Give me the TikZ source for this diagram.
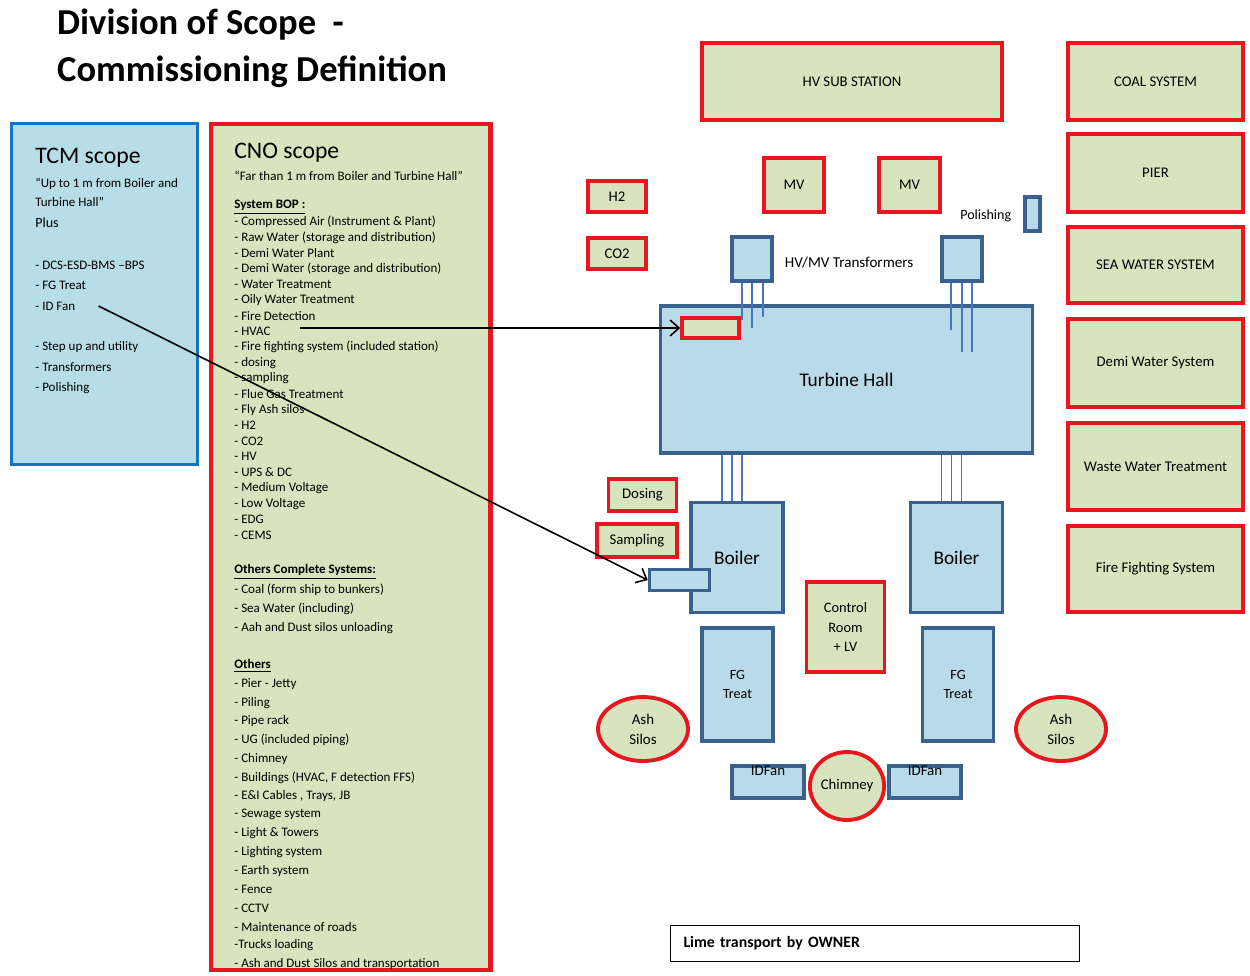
\documentclass[tikz,border=0pt]{standalone}
\usepackage{fontspec}
\setmainfont{Carlito}
\usetikzlibrary{arrows.meta,positioning,shapes.geometric}
\definecolor{cnored}{RGB}{232,22,30}
\definecolor{cnogreen}{RGB}{215,228,189}
\definecolor{tcmblue}{RGB}{20,115,195}
\definecolor{tcmfill}{RGB}{183,221,232}
\definecolor{plantblue}{RGB}{58,96,142}
\definecolor{plantfill}{RGB}{185,218,232}
\definecolor{feedblue}{RGB}{70,120,185}

\begin{document}
\begin{tikzpicture}[x=0.02cm, y=-0.02cm, >={Straight Barb[length=1.8mm,width=3.2mm]},
  every node/.style={font=\fontsize{7.4}{8.8}\selectfont}]
  % styles for the scope boxes and the plant layout
  \tikzset{redbox/.style={draw=cnored, line width=2.2pt, fill=cnogreen, align=center, font=\fontsize{8.4}{10}\selectfont},
    bluebox/.style={draw=plantblue, line width=2pt, fill=plantfill, align=center, font=\fontsize{8.5}{11}\selectfont},
    item/.style={anchor=west, inner sep=0pt, font=\fontsize{7.4}{8.8}\selectfont},
    feeder/.style={draw=feedblue, line width=0.9pt},
    pointer/.style={->, line width=0.9pt}}
  \useasboundingbox (0,0) rectangle (1250,975);

  % title
  \node[anchor=west, font=\bfseries\fontsize{20.8}{24}\selectfont] (title1) at (51,25) {Division of Scope \ -};
  \node[anchor=west, font=\bfseries\fontsize{20.8}{24}\selectfont] (title2) at (51,72) {Commissioning Definition};

  % TCM scope
  \node[draw=tcmblue, line width=1.8pt, fill=tcmfill, minimum width=3.72cm, minimum height=6.82cm] (tcm) at (104.5,294) {};
  \node[anchor=west, inner sep=0pt, font=\fontsize{13.5}{16}\selectfont] (tcmhead) at (35,158) {TCM scope};
  \node[anchor=west, inner sep=0pt, align=left, font=\fontsize{7.4}{10.8}\selectfont] (tcmquote) at (35,192.5) {``Up to 1 m from Boiler and\\Turbine Hall''};
  \node[anchor=west, inner sep=0pt, font=\fontsize{8}{9}\selectfont] (plus) at (35,223) {Plus};
  \foreach \y/\t [count=\i] in {265/{- DCS-ESD-BMS --BPS}, 285/{- FG Treat}, 306/{- ID Fan},
      347/{- Step up and utility}, 367/{- Transformers}, 388/{- Polishing}}
    \node[item] (tcm\i) at (35,\y) {\t};

  % CNO scope
  \node[draw=cnored, line width=2.3pt, fill=cnogreen, minimum width=5.6cm, minimum height=16.92cm] (cno) at (350.5,547) {};
  \node[anchor=west, inner sep=0pt, font=\fontsize{13.5}{16}\selectfont] (cnohead) at (234,153) {CNO scope};
  \node[anchor=west, inner sep=0pt, font=\fontsize{7.4}{8.8}\selectfont] (cnoquote) at (234,176) {``Far than 1 m from Boiler and Turbine Hall''};
  \node[item, font=\bfseries\fontsize{7.4}{8.8}\selectfont] (bophead) at (234,207) {\underline{System BOP :}};
  \foreach \t [count=\i] in {{- Compressed Air  (Instrument \& Plant)}, {- Raw Water (storage and distribution)},
      {- Demi Water Plant}, {- Demi Water (storage and distribution)}, {- Water Treatment},
      {- Oily Water Treatment}, {- Fire Detection}, {- HVAC}, {- Fire fighting system  (included station)},
      {- dosing}, {- sampling}, {- Flue Gas Treatment}, {- Fly  Ash silos}, {- H2}, {- CO2}, {- HV},
      {- UPS \& DC}, {- Medium Voltage}, {- Low Voltage}, {- EDG}, {- CEMS}}
    \node[item] (bop\i) at (234,206.35+15.65*\i) {\t};
  \node[item, font=\bfseries\fontsize{7.4}{8.8}\selectfont] (comphead) at (234,572) {\underline{Others Complete Systems:}};
  \foreach \t [count=\i] in {{- Coal (form ship to bunkers)}, {- Sea Water (including)}, {- Aah and Dust silos unloading}}
    \node[item] (comp\i) at (234,571+19*\i) {\t};
  \node[item, font=\bfseries\fontsize{7.4}{8.8}\selectfont] (othhead) at (234,666) {\underline{Others}};
  \foreach \t [count=\i] in {{- Pier - Jetty}, {- Piling}, {- Pipe rack}, {- UG (included piping)}, {- Chimney},
      {- Buildings  (HVAC, F detection  FFS)}, {- E\&I Cables , Trays, JB}, {- Sewage system},
      {- Light  \&  Towers}, {- Lighting system}, {- Earth system}, {- Fence}, {- CCTV},
      {- Maintenance of roads}, {-Trucks loading}, {- Ash  and Dust Silos and transportation}}
    \node[item] (oth\i) at (234,665.33+18.67*\i) {\t};

  % outer systems (right column)
  \node[redbox, minimum width=6cm, minimum height=1.55cm] (hvsub) at (852,81.5) {HV SUB STATION};
  \node[redbox, minimum width=3.5cm, minimum height=1.55cm] (coal) at (1155.5,81.5) {COAL SYSTEM};
  \node[redbox, minimum width=3.5cm, minimum height=1.56cm] (pier) at (1155.5,173) {PIER};
  \node[redbox, minimum width=3.5cm, minimum height=1.52cm] (seawater) at (1155.5,265) {SEA WATER SYSTEM};
  \node[redbox, minimum width=3.5cm, minimum height=1.76cm] (demi) at (1155.5,363) {Demi Water System};
  \node[redbox, minimum width=3.5cm, minimum height=1.74cm] (waste) at (1155.5,466.5) {Waste Water Treatment};
  \node[redbox, minimum width=3.5cm, minimum height=1.72cm] (fire) at (1155.5,569) {Fire Fighting System};

  % small units
  \node[redbox, minimum width=1.16cm, minimum height=0.62cm] (h2) at (617,196.5) {H2};
  \node[redbox, minimum width=1.16cm, minimum height=0.62cm] (co2) at (617,253.5) {CO2};
  \node[redbox, minimum width=1.2cm, minimum height=1.08cm] (mv1) at (794,185) {MV};
  \node[redbox, minimum width=1.22cm, minimum height=1.08cm] (mv2) at (909.5,185) {MV};
  \node[bluebox, line width=1.8pt, minimum width=0.3cm, minimum height=0.68cm] (polish) at (1032.5,214) {};
  \node[left=0.12cm of polish, yshift=-0.04cm, font=\fontsize{8}{9.5}\selectfont] (polishlbl) {Polishing};

  % transformers and turbine hall
  \node[bluebox, minimum width=0.8cm, minimum height=0.88cm] (trafo1) at (752,259) {};
  \node[bluebox, minimum width=0.8cm, minimum height=0.88cm] (trafo2) at (962,259) {};
  \node[right=0.1cm of trafo1, yshift=-0.08cm, font=\fontsize{8.6}{10}\selectfont] (trafolbl) {HV/MV Transformers};
  \node[bluebox, minimum width=7.44cm, minimum height=2.94cm, font=\fontsize{11}{13}\selectfont] (hall) at (846.5,379.5) {Turbine Hall};
  \node[redbox, line width=2pt, minimum width=1.14cm, minimum height=0.4cm] (hvacbox) at (710.5,328) {};
  \foreach \dx/\l in {-0.2cm/37, 0cm/45, 0.22cm/34}
    \draw[feeder] ([xshift=\dx]trafo1.south) -- ++(0,\l);
  \foreach \dx/\l in {-0.22cm/47, 0cm/69, 0.2cm/69}
    \draw[feeder] ([xshift=\dx]trafo2.south) -- ++(0,\l);

  % boilers and flue gas train
  \node[bluebox, minimum width=1.84cm, minimum height=2.2cm, font=\fontsize{11}{13}\selectfont] (boiler1) at (737,557.5) {Boiler};
  \node[bluebox, minimum width=1.84cm, minimum height=2.2cm, font=\fontsize{11}{13}\selectfont] (boiler2) at (956.5,557.5) {Boiler};
  \foreach \dx in {-0.3cm,-0.1cm,0.1cm} {
    \draw[feeder] ([xshift=\dx]boiler1.north) -- ([xshift=\dx]boiler1.north |- hall.south);
    \draw[feeder] ([xshift=\dx]boiler2.north) -- ([xshift=\dx]boiler2.north |- hall.south);
  }
  \node[bluebox, minimum width=1.2cm, minimum height=0.42cm] (fanduct) at (679.5,580) {};
  \node[redbox, minimum width=1.36cm, minimum height=0.64cm] (dosing) at (642.5,495) {Dosing};
  \node[redbox, minimum width=1.6cm, minimum height=0.66cm] (sampling) at (637,540.5) {Sampling};
  \node[redbox, minimum width=1.56cm, minimum height=1.8cm, font=\fontsize{8.2}{11.3}\selectfont] (control) at (845.5,627) {Control\\Room\\+ LV};
  \node[bluebox, minimum width=1.42cm, minimum height=2.26cm, font=\fontsize{8}{11}\selectfont] (fg1) at (737.5,684.5) {FG\\Treat};
  \node[bluebox, minimum width=1.42cm, minimum height=2.26cm, font=\fontsize{8}{11}\selectfont] (fg2) at (958,684.5) {FG\\Treat};
  \node[redbox, ellipse, minimum width=1.8cm, minimum height=1.28cm, inner sep=0pt, font=\fontsize{8.5}{11.5}\selectfont] (ash1) at (643,729) {Ash\\Silos};
  \node[redbox, ellipse, minimum width=1.8cm, minimum height=1.28cm, inner sep=0pt, font=\fontsize{8.5}{11.5}\selectfont] (ash2) at (1061,729) {Ash\\Silos};
  \node[bluebox, minimum width=1.44cm, minimum height=0.64cm] (idfan1) at (768,782) {};
  \node[bluebox, minimum width=1.44cm, minimum height=0.64cm] (idfan2) at (925,782) {};
  \node[below=0pt of idfan1.north, inner sep=1pt, font=\fontsize{8.5}{10}\selectfont] (idfanlbl1) {IDFan};
  \node[below=0pt of idfan2.north, inner sep=1pt, font=\fontsize{8.5}{10}\selectfont] (idfanlbl2) {IDFan};
  \node[redbox, ellipse, minimum width=1.22cm, minimum height=1.36cm, inner sep=0pt] (chimney) at (847,786) {Chimney};

  % note
  \node[draw, line width=0.7pt, fill=white, minimum width=8.18cm, minimum height=0.72cm, text width=7.66cm,
    inner xsep=0.26cm, align=left, font=\bfseries\fontsize{9}{10.5}\selectfont] (lime) at (875,943.5) {Lime transport by OWNER};

  % scope arrows
  \draw[pointer] ([xshift=0.58cm]bop8.east |- hvacbox.west) -- (hvacbox.west);
  \draw[pointer] ([xshift=0.46cm]tcm3.east) -- (fanduct.west);
\end{tikzpicture}
\end{document}
